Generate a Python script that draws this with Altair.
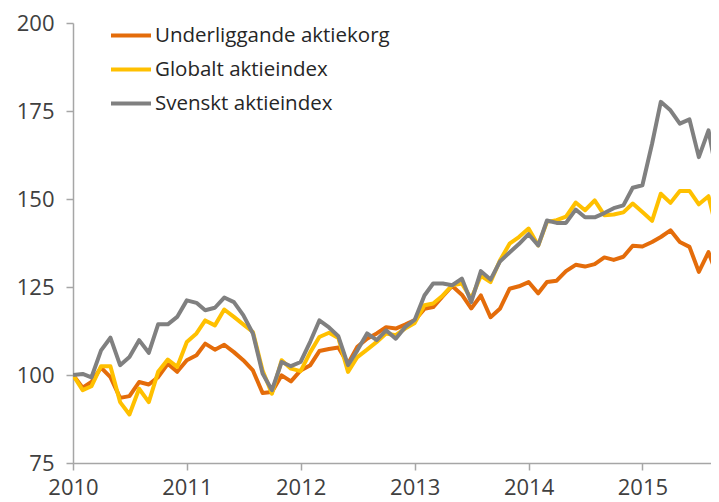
import altair as alt
import pandas as pd

# Monthly index values, Jan 2010 .. Sep 2015 (Jan 2010 = 100)
datum = pd.date_range("2010-01-01", periods=69, freq="MS")

underliggande = [
    100, 96.4, 98, 102.1, 99.4, 93.5, 94, 98, 97.3, 99.4, 103.2, 100.9,
    104.2, 105.6, 108.9, 107.2, 108.6, 106.5, 104.2, 101.3, 94.9, 95.2, 99.9, 98.2,
    101.3, 102.8, 106.8, 107.4, 107.8, 103.2, 108, 110.3, 111.8, 113.6, 113.2, 114.3,
    115.6, 118.8, 119.3, 122.4, 125.3, 122.8, 118.9, 122.6, 116.4, 118.8, 124.5, 125.2,
    126.4, 123.2, 126.4, 126.8, 129.5, 131.3, 130.8, 131.5, 133.4, 132.7, 133.6, 136.7,
    136.5, 137.8, 139.2, 141.1, 137.8, 136.4, 129.3, 134.9, 127.4,
]
globalt = [
    100, 95.7, 96.8, 102.5, 102.5, 92.3, 88.8, 96.1, 92.3, 100.9, 104.4, 102.3,
    109.4, 111.8, 115.5, 114.1, 118.6, 116.5, 114.4, 112.2, 101.3, 94.7, 104.2, 101.8,
    101.1, 106.5, 110.8, 112, 110.5, 100.9, 105.1, 107.2, 109.4, 111.8, 111.3, 113.2,
    114.8, 119.8, 120.3, 122.6, 125.5, 126, 121.7, 128.2, 126.4, 132.5, 137.3, 139.2,
    141.6, 136.8, 143.5, 144, 145, 149, 146.8, 149.6, 145.4, 145.6, 146.2, 148.7,
    146.3, 143.8, 151.5, 148.9, 152.3, 152.3, 148.5, 150.8, 139.5,
]
svenskt = [
    100, 100.3, 99.3, 107, 110.6, 102.8, 105.1, 109.9, 106.3, 114.4, 114.4, 116.5,
    121.2, 120.5, 118.4, 119.1, 122, 120.7, 117, 111.8, 100.4, 95.7, 103.7, 102.5,
    103.7, 109.5, 115.5, 113.5, 111, 102.8, 107, 111.8, 109.9, 112.7, 110.3, 113.6,
    115.7, 122.6, 126, 126, 125.5, 127.4, 120.7, 129.5, 127.1, 132.2, 134.8, 137.2,
    140, 136.8, 143.9, 143.2, 143.2, 147, 144.8, 144.8, 146, 147.4, 148.2, 153.2,
    153.9, 165.7, 177.6, 175.2, 171.4, 172.6, 161.9, 169.5, 155,
]

series_names = ["Underliggande aktiekorg", "Globalt aktieindex", "Svenskt aktieindex"]
series_colors = ["#E46C0A", "#FFC000", "#808080"]
y_ticks = [75, 100, 125, 150, 175, 200]
x_years = [2010, 2011, 2012, 2013, 2014, 2015]

frames = []
for name, vals in zip(series_names, [underliggande, globalt, svenskt]):
    frames.append(pd.DataFrame({"Datum": datum, "Värde": vals, "Serie": name}))
df = pd.concat(frames, ignore_index=True)

font = "Open Sans"

chart = (
    alt.Chart(df)
    .mark_line(strokeWidth=4, strokeJoin="round", clip=True)
    .encode(
        x=alt.X(
            "Datum:T",
            title=None,
            scale=alt.Scale(domain=[alt.DateTime(year=2010, month=1, date=1),
                                    alt.DateTime(year=2015, month=8, date=9)]),
            axis=alt.Axis(
                values=[alt.DateTime(year=y, month=1, date=1) for y in x_years],
                format="%Y",
                tickSize=7,
                labelPadding=7,
                labelFlush=False,
                grid=False,
            ),
        ),
        y=alt.Y(
            "Värde:Q",
            title=None,
            scale=alt.Scale(domain=[75, 200], nice=False, zero=False),
            axis=alt.Axis(values=y_ticks, tickSize=7, labelPadding=12, grid=False),
        ),
        color=alt.Color(
            "Serie:N",
            scale=alt.Scale(domain=series_names, range=series_colors),
            legend=alt.Legend(
                title=None,
                orient="none",
                legendX=36,
                legendY=-3,
                symbolType="stroke",
                symbolSize=1600,
                symbolStrokeWidth=4,
                labelFontSize=20.5,
                labelFont=font,
                labelColor="#262626",
                labelLimit=400,
                labelOffset=2,
                clipHeight=31,
                rowPadding=3,
            ),
        ),
        order=alt.Order("Datum:T"),
    )
    .properties(
        width=638,
        height=440,
        autosize=alt.AutoSizeParams(type="none"),
        padding={"left": 65, "top": 15, "right": 0, "bottom": 38},
    )
    .configure_view(stroke=None)
    .configure_axis(
        domainColor="#A6A6A6",
        tickColor="#A6A6A6",
        domainWidth=1.5,
        tickWidth=1.5,
        labelColor="#404040",
        labelFont=font,
        labelFontSize=22,
    )
)

chart.save("out.html", embed_options={"renderer": "svg", "actions": False})
